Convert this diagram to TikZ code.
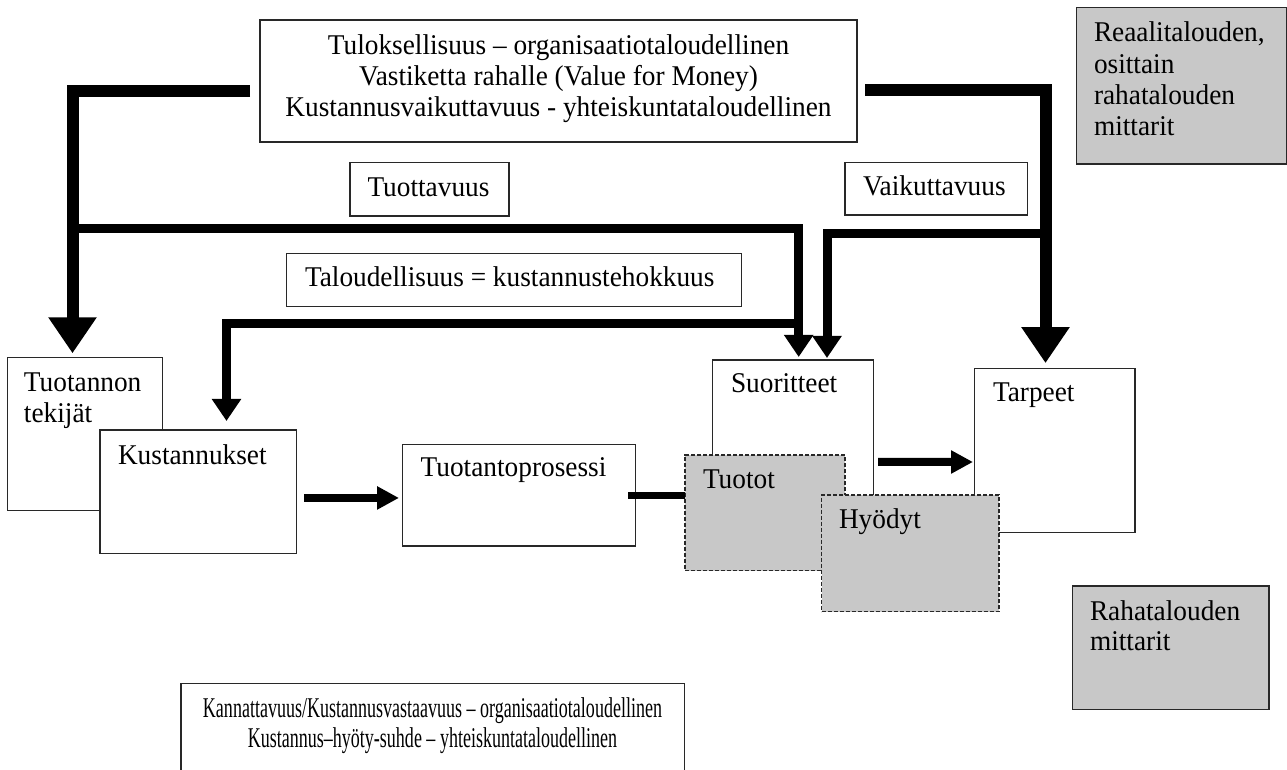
\documentclass[tikz,border=0pt]{standalone}
\usepackage{fontspec}
\setmainfont[FakeStretch=0.955]{Liberation Serif}
\newfontfamily\narrowserif[FakeStretch=0.63,Ligatures=TeX]{Liberation Serif}
\usetikzlibrary{arrows.meta,calc}

\definecolor{shade}{RGB}{200,200,200}
\definecolor{rim}{RGB}{40,40,40}

% multi-line labels whose baseline is the first line
\newcommand\stackl[1]{\begin{tabular}[t]{@{}l@{}}#1\end{tabular}}
\newcommand\stackc[1]{\begin{tabular}[t]{@{}c@{}}#1\end{tabular}}

\tikzset{
  box/.style={draw=rim, line width=0.55pt, fill=white, inner sep=0pt, outer sep=0pt,
              anchor=north west},
  greybox/.style={box, fill=shade},
  dashbox/.style={greybox, dash pattern=on 2pt off 1pt},
  txt/.style={inner sep=0pt, outer sep=0pt, anchor=base west,
              font=\fontsize{14.3}{15.5}\selectfont},
  heavy/.style={line width=6pt, line join=miter,
                -{Triangle[length=18pt,width=23pt]}},
  medium/.style={line width=4.5pt, line join=miter,
                 -{Triangle[length=11pt,width=14pt]}},
  small/.style={line width=4pt, -{Triangle[length=11pt,width=11pt]}},
  plain/.style={line width=3.5pt},
}

\begin{document}
\begin{tikzpicture}[x=0.5pt,y=-0.5pt]
  \useasboundingbox (0,0) rectangle (1287,770);
  \clip (0,0) rectangle (1287,770);
  \fill[white] (0,0) rectangle (1287,770);

  % ---- measure boxes -------------------------------------------------
  \node[box, minimum width=298.5pt, minimum height=61pt] (tulos) at (260,20) {};
  \node[txt, anchor=base] (tulos-t) at (558.5,54.3)
    {\stackc{Tuloksellisuus – organisaatiotaloudellinen\\
             Vastiketta rahalle (Value for Money)\\
             Kustannusvaikuttavuus - yhteiskuntataloudellinen}};

  \node[greybox, minimum width=104.8pt, minimum height=78.35pt] (reaal) at (1076.7,7.3) {};
  \node[txt, font=\fontsize{14.3}{15.7}\selectfont] (reaal-t) at (1094,41.7)
    {\stackl{Reaalitalouden,\\ osittain\\ rahatalouden\\ mittarit}};

  \node[box, minimum width=79.5pt, minimum height=26.65pt] (tuott) at (350,162.7) {};
  \node[txt] (tuott-t) at (367.5,196.7) {Tuottavuus};

  \node[box, minimum width=91.35pt, minimum height=26.15pt] (vaik) at (845,162.7) {};
  \node[txt] (vaik-t) at (863,196) {Vaikuttavuus};

  \node[box, minimum width=227.5pt, minimum height=26.7pt] (talous) at (286.7,253.3) {};
  \node[txt] (talous-t) at (305,287) {Taloudellisuus = kustannustehokkuus};

  % ---- process chain -------------------------------------------------
  \node[box, minimum width=77.5pt, minimum height=76.7pt] (tek) at (7.3,357.3) {};
  \node[txt] (tek-t) at (24,392) {\stackl{Tuotannon\\ tekijät}};

  \node[box, minimum width=98.35pt, minimum height=61.65pt] (kust) at (100,430) {};
  \node[txt] (kust-t) at (118,465) {Kustannukset};

  \node[box, minimum width=116.5pt, minimum height=50.65pt] (pros) at (402.7,444.7) {};
  \node[txt] (pros-t) at (420.7,476.7) {Tuotantoprosessi};

  \node[box, minimum width=80.3pt, minimum height=90pt] (suor) at (712.7,360) {};
  \node[txt] (suor-t) at (731,393) {Suoritteet};

  \node[dashbox, minimum width=80pt, minimum height=57.85pt] (tuotot) at (685,455) {};
  \node[txt] (tuotot-t) at (703,489) {Tuotot};

  \node[box, minimum width=80.35pt, minimum height=82.2pt] (tarp) at (974.3,368.3) {};
  \node[txt] (tarp-t) at (993,401.7) {Tarpeet};

  \node[dashbox, minimum width=88.65pt, minimum height=58.35pt] (hyod) at (821.7,495) {};
  \node[txt] (hyod-t) at (839,529) {Hyödyt};

  \node[greybox, minimum width=98.35pt, minimum height=61.65pt] (raha) at (1072.3,586) {};
  \node[txt] (raha-t) at (1090,620) {\stackl{Rahatalouden\\ mittarit}};

  \node[box, minimum width=251.65pt, minimum height=60pt] (kann) at (181,683.3) {};
  \node[txt, anchor=base, font=\narrowserif\fontsize{14.3}{15}\selectfont] (kann-t) at (432.5,717)
    {\stackc{Kannattavuus/Kustannusvastaavuus – organisaatiotaloudellinen\\
             Kustannus–hyöty-suhde – yhteiskuntataloudellinen}};

  % ---- line positions ------------------------------------------------
  \coordinate (tl) at (250,91.5);
  \coordinate (lx) at (72.5,0);
  \coordinate (b1) at (72.5,229);
  \coordinate (s1) at (798.7,0);
  \coordinate (b2) at (798.7,323.5);
  \coordinate (kx) at (226.5,0);
  \coordinate (tr) at (865,90.5);
  \coordinate (rx) at (1045.5,0);
  \coordinate (b3) at (1045.5,234);
  \coordinate (s2) at (827,0);

  % ---- heavy connectors ----------------------------------------------
  \draw[heavy, shorten >=2pt] (tl) -| (tek.north -| lx);
  \draw[medium, shorten >=1.5pt] (b1) -| (suor.north -| s1);
  \draw[medium, shorten >=4.5pt] (b2) -| (kust.north -| kx);
  \draw[heavy, shorten >=2.6pt] (tr) -| (tarp.north -| rx);
  \draw[medium, shorten >=1pt] (b3) -| (suor.north -| s2);

  % ---- flow between process boxes ------------------------------------
  \draw[small] ($(kust.east |- pros.west)+(7.3,2.6)$) -- ($(pros.west)+(-3.7,2.6)$);
  \draw[plain] ($(pros.east)+(-7.7,0)$) -- (tuotot.west |- pros.east);
  \draw[small] ($(suor.north east)+(4.7,102)$) -- ($(tarp.north west)+(-1.3,93.7)$);
\end{tikzpicture}
\end{document}
